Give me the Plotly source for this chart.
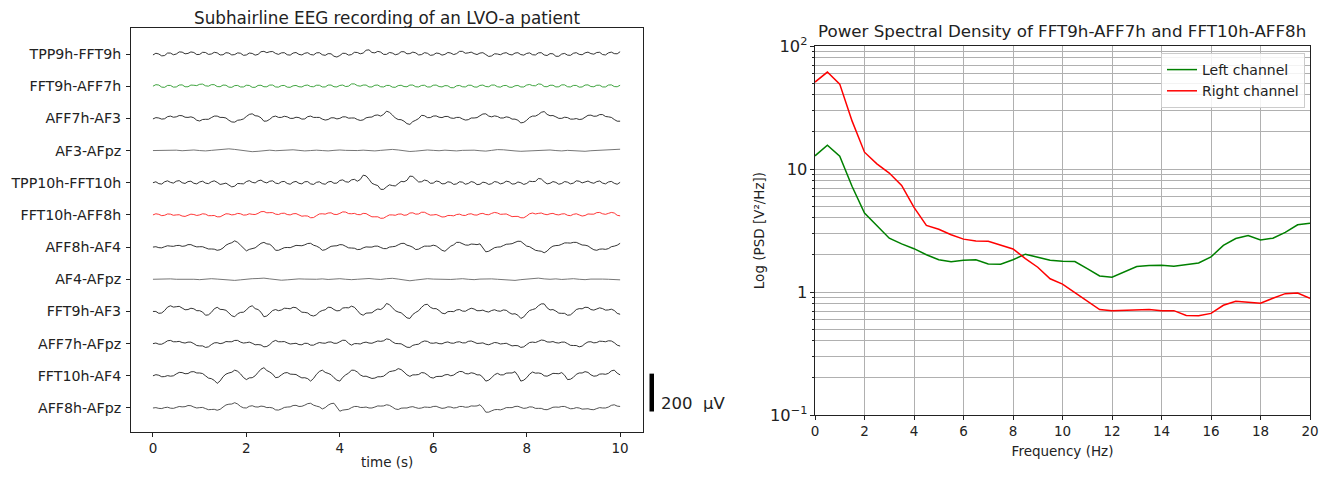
import numpy as np
import plotly.graph_objects as go

# ---------------- EEG data (µV deviation from each channel's baseline, 0 to 10 s) ----------------
channel_names = ["TPP9h-FFT9h", "FFT9h-AFF7h", "AFF7h-AF3", "AF3-AFpz", "TPP10h-FFT10h",
                 "FFT10h-AFF8h", "AFF8h-AF4", "AF4-AFpz", "FFT9h-AF3", "AFF7h-AFpz",
                 "FFT10h-AF4", "AFF8h-AFpz"]

tpp9h_fft9h = [-5, 4, 0, -10, -8, 5, 5, -4, 0, 11, 10, 1, 3, 11, 8, -3, -2, 9, 8, -2, 0, 9, 6, -5,
               -4, 7, 5, -5, -3, 6, 4, -7, -5, 5, 3, -6, -2, 12, 14, 7, 12, 13, 3, -2, 6, 7, -4, -6,
               5, 8, -2, -5, 4, 7, -3, -5, 6, 7, -4, -7, 2, 1, -12, -16, -8, 4, 3, -6, -3, 9, 8, 1,
               5, 20, 22, 8, 6, 14, 10, -2, -2, 8, 5, -4, 0, 12, 12, 1, 2, 10, 6, -5, -3, 7, 4, -7,
               -5, 5, 3, -6, -2, 8, 5, -3, 2, 14, 14, 4, 6, 10, 2, -3, 5, 7, -3, -13, -10, 1, 0, -4,
               4, 7, -2, -5, 5, 7, -3, -6, 3, 6, -4, -5, 6, 7, -5, -8, 2, 1, -12, -12, 0, 3, -6, -7,
               4, 7, -2, -4, 6, 10, 2, -1, 8, 9, -3, -5, 6, 10, 2, 1, 12]
fft9h_aff7h = [0, 8, 6, -5, -6, 4, 4, -5, -4, 6, 7, -3, -3, 6, 5, 3, 10, 11, 2, 0, 8, 8, -2, -3,
               6, 5, -5, -6, 3, 4, -4, -4, 5, 4, -6, -6, 4, 5, -3, -3, 6, 6, -4, -5, 3, 4, -5, -6,
               2, 4, -3, -4, 4, 6, -2, -3, 5, 5, -4, -4, 6, 6, -3, -4, 4, 6, -2, 0, 12, 12, 3, 0,
               6, 6, -4, -4, 5, 6, -3, -4, 4, 4, -5, -6, 3, 5, -2, -3, 6, 6, -3, -4, 4, 5, -4, -4,
               5, 6, -2, -4, 3, 2, -8, -8, 2, 4, -3, -4, 5, 5, -4, -5, 4, 6, -2, -3, 6, 6, -3, -5,
               3, 4, -5, -6, 2, 4, -4, -4, 6, 9, 3, 2, 12, 10, -2, -3, 5, 5, -4, -3, 7, 7, -3, -4,
               4, 4, -5, -4, 6, 7, -2, -3, 5, 5, -4, -4, 6, 7, -2, -3, 5]
aff7h_af3 = [-3, 4, 2, -4, -2, 9, 12, 6, 8, 15, 14, 6, 5, 8, 3, -10, -14, -6, -5, -5, 4, 12, 12, 5,
             5, 2, -10, -19, -20, -10, -8, -3, 10, 21, 24, 14, 12, 3, -15, -14, -5, 8, 12, 5, 5, 11,
             8, 0, 0, 6, 4, -4, -3, 9, 12, 5, 5, 5, -4, -9, -6, 3, 3, -3, 0, 8, 8, 1, 2, 2, -6, -11,
             -8, 3, 6, 7, 16, 18, 12, 21, 38, 32, 18, 2, -6, -7, -15, -28, -32, -17, -10, -1, 16, 14,
             4, 4, 12, 13, 6, 4, 10, 10, 2, 0, 5, 5, -3, -9, -7, 2, 2, 4, 14, 23, 24, 12, 8, 13, 10,
             2, 2, 8, 5, -4, -4, -10, -24, -21, -10, 5, 12, 12, 20, 32, 36, 21, 14, 15, 8, 0, 0, 6,
             4, -4, -4, -1, -6, -4, 6, 16, 17, 11, 12, 20, 20, 10, 8, 5, -6, -15, -15]
af3_afpz = [0, 1, -1, 0, 2, -1, 1, 3, 0, -2, 1, 3, 5, 9, 6, 1, -3, -6, -4, 0,
            2, -1, 1, 3, 4, 1, -2, 0, 2, 0, -2, 1, 3, 1, -1, 0, 2, 0, -2, 1,
            4, 6, 3, -2, -5, -3, 1, 3, 1, -1, 2, 0, -2, 1, 3, 2, -1, -3, 1, 5,
            4, 0, -2, -4, -3, 0, 2, 4, 3, 0, -2, 1, 0, -3, -4, -1, 1, 0, 2, 5, 7]
tpp10h_fft10h = [0, 5, -5, -7, 5, 10, 2, -2, 8, 11, 0, -4, 6, 8, -3, -6, 4, 8, -2, -5, 5, 10, 2, -9,
                 -6, -2, -12, -22, -18, -4, -5, -6, 6, 11, 2, -1, 10, 14, 4, -1, 8, 10, -2, -5, 5, 7,
                 -4, -8, 3, 7, -3, -6, 5, 6, -6, -9, 2, 5, -5, -8, 4, 7, -3, -2, 12, 15, 5, 3, 15, 18,
                 8, 17, 40, 36, 18, -3, -10, -15, -35, -35, -22, -11, -15, -17, -5, 7, 5, 13, 35, 33,
                 18, 4, 5, 14, 10, -3, -2, 9, 6, -6, -5, 5, 2, -9, -6, 5, 3, -8, -4, 6, 2, -10, -8, 3,
                 0, -9, -5, 6, 3, -6, -2, 8, 5, -7, -6, 4, 0, -9, -4, 8, 6, 7, 22, 20, 5, -6, -3, 6,
                 2, -8, -4, 6, 3, -6, -2, 10, 8, -1, 4, 9, 1, -3, 6, 9, -2, -6, 4, 7, -3, -8, 2]
fft10h_aff8h = [0, 6, 3, -4, -2, 5, 4, -2, 0, 1, -6, -8, -2, 4, 2, -3, 0, 6, 4, -4, -4, -3, -10, -10,
                -2, 6, 5, 0, 2, 8, 6, -1, 0, 6, 3, 2, 8, 17, 18, 11, 12, 12, 4, 2, 8, 9, 2, 0, 6, 7,
                0, -7, -5, -6, -15, -14, -4, 5, 6, 4, 10, 11, 3, 2, 8, 16, 15, 7, 6, 8, 2, 1, 8, 7,
                -2, -10, -10, -10, -18, -17, -8, 0, 0, -2, 4, 5, -2, 0, 10, 11, 4, 5, 14, 14, 6, -1,
                0, 2, -4, -11, -10, -3, -3, -5, 2, 4, -2, -3, 4, 6, 0, -1, 6, 8, 2, 1, 8, 13, 10, 3,
                4, 5, -2, -9, -8, -8, -15, -15, -6, 6, 10, 5, 8, 10, 4, 1, 6, 8, 2, 0, 5, 6, -2, -4,
                3, 6, 0, -6, -3, 5, 4, 4, 12, 13, 6, 3, 8, 13, 10, -2, -5]
aff8h_af4 = [0, 2, -3, -4, 2, 7, 5, 4, 8, 9, 4, 6, 13, 13, 6, 1, 2, 2, -4, -10, -10, -11, -17, -14,
             -5, 10, 18, 23, 33, 25, 10, -8, -20, -12, -10, -4, 8, 20, 25, 17, 15, 2, -17, -17, -10,
             -3, -2, -3, 3, 9, 8, 7, 12, 19, 20, 10, 5, -3, -17, -14, -5, 4, 6, 7, 13, 12, 4, -4,
             -5, -6, -13, -12, -4, 1, 0, 0, 5, 5, -2, -8, -8, 0, 2, 4, 12, 19, 20, 10, 6, -1, -13,
             -11, -2, 5, 5, 5, 10, 6, -5, -17, -22, -6, 5, 12, 25, 25, 18, 11, 10, 16, 15, 13, 17,
             -1, -25, -22, -12, -3, 0, 1, 8, 15, 16, 18, 25, 31, 30, 15, 5, 2, -8, -17, -20, -22,
             -30, -21, -5, 5, 8, 9, 15, 22, 22, 21, 25, 25, 18, 11, 10, 6, -5, -14, -17, -11, -10,
             -12, -8, 2, 5, 10, 20]
af4_afpz = [0, 1, -1, 2, 0, 1, -1, 0, -2, 1, 3, 1, -1, -3, -6, -3, 1, 3, 4, 6,
            2, -2, -5, -3, 0, 2, 1, -1, 0, 2, -1, 1, 3, 0, -2, 0, 2, 4, 1, -1,
            3, 5, 1, -4, -8, -4, 0, 3, 1, 0, 2, -1, 1, 3, 0, -2, 1, 3, 2, 0,
            -2, -5, -6, -2, 1, 3, 6, 2, 0, 2, -1, 1, 3, 0, -2, 1, 2, 1, 0, -2, -3]
fft9h_af3 = [0, 0, -10, -8, 5, 23, 30, 23, 25, 27, 18, 9, 10, 17, 14, 4, 4, -3, -20, -18, -5, 14, 22,
             11, 10, 6, -8, -23, -28, -12, -5, -4, 8, 24, 30, 15, 10, -4, -28, -24, -10, 5, 10, 4, 8,
             17, 16, 14, 22, 20, 8, -4, -5, -8, -20, -24, -18, -2, 5, 9, 22, 21, 10, 3, 5, 18, 20,
             19, 28, 22, 5, -13, -20, -9, -8, -7, 5, 13, 10, 21, 42, 36, 20, 4, -3, -7, -20, -34,
             -37, -16, -5, 4, 22, 35, 38, 22, 15, 15, 5, -9, -12, -1, 0, -1, 8, 10, 2, 1, 10, 17,
             13, 4, 4, 7, 0, -3, 5, 9, 3, 1, 8, 6, -6, -14, -12, -20, -37, -29, -10, 5, 10, 15, 30,
             40, 40, 19, 8, 10, 2, -9, -10, -10, -20, -18, -5, 10, 15, 14, 22, 21, 10, 7, 13, 19,
             15, 7, 8, 12, 5, -10, -15]
aff7h_afpz = [0, 3, -3, -3, 5, 15, 17, 10, 10, 12, 6, 3, 8, 8, 0, -10, -12, -12, -20, -17, -5, 4, 5,
              0, 3, 11, 10, 10, 17, 17, 8, 3, 5, 8, 2, -6, -5, -7, -17, -15, -5, 10, 17, 10, 10, 11,
              4, -2, 0, 2, -5, -6, 2, 1, -8, -8, 0, 6, 3, 2, 8, 9, 2, 2, 10, 18, 17, 1, -8, 0, 0, -2,
              5, 8, 3, 2, 8, 14, 12, 15, 25, 22, 10, 1, 0, -1, -10, -19, -20, -9, -5, -3, 8, 14, 12,
              3, 2, 5, 0, -1, 6, 9, 3, 2, 8, 10, 4, 4, 12, 14, 8, 1, 2, 4, -3, -6, 0, 6, 4, -2, 0, 2,
              -5, -12, -10, -11, -20, -17, -5, 6, 8, 6, 12, 19, 17, 9, 8, 11, 5, 3, 8, 8, 0, -9, -10,
              -10, -17, -13, 0, 9, 10, 4, 6, 13, 12, 10, 15, 14, 5, -8, -13]
fft10h_af4 = [0, 6, 3, -5, -4, 1, -2, 0, 10, 18, 17, 11, 12, 21, 22, 15, 15, 12, 0, -12, -15, -24,
              -40, -27, -5, 9, 15, 19, 30, 24, 10, -9, -20, -11, -10, 0, 18, 35, 43, 28, 20, 9, -10,
              -7, 5, 15, 17, 9, 8, 7, -3, -11, -10, -15, -28, -14, 8, 23, 30, 18, 13, 6, -10, -23,
              -28, -8, 5, 14, 30, 29, 20, 5, -3, -2, -8, -14, -12, -5, -5, -2, 10, 22, 25, 28, 38,
              33, 20, 5, -3, 5, 5, 7, 17, 15, 5, -8, -12, -4, -3, -3, 5, 7, 0, 4, 15, 23, 22, 12, 10,
              16, 13, 5, 5, -8, -28, -23, -10, 6, 13, 5, 5, 14, 15, 15, 22, 1, -28, -23, -10, 9, 20,
              14, 15, 12, 0, -2, 5, 13, 12, 11, 17, 3, -20, -18, -8, 8, 15, 15, 22, 18, 5, -2, 0, 9,
              10, 8, 13, 26, 30, 14, 5]
aff8h_afpz = [0, 2, -2, -3, 2, 4, -1, -2, 3, 8, 6, 7, 13, 12, 5, 0, 2, 3, -3, -9, -8, -7, -12, -7,
              5, 16, 20, 21, 28, 21, 8, 1, 0, 9, 12, 6, 5, 10, 8, 2, 3, 0, -10, -11, -5, 3, 5, 6, 13,
              14, 8, 9, 15, 23, 25, 15, 10, 6, -5, 2, 15, 23, 25, 1, -17, -11, -10, -7, 2, 8, 8, 3, 3,
              5, 0, 0, 5, 11, 10, 11, 17, 14, 5, -5, -8, -1, 0, 0, 5, 7, 2, -2, 0, 5, 4, 3, 8, 9, 3,
              -2, 0, 6, 5, 0, 2, 8, 8, 4, 5, 11, 10, 11, 17, 1, -22, -22, -15, -9, -8, -10, -5, 2, 2,
              2, 8, 9, 3, -2, 0, 6, 5, -2, -2, -2, -8, -9, -3, 4, 5, 4, 8, 8, 2, -4, -3, 2, 0, -6, -5,
              -4, -8, -9, -3, 2, 0, 0, 5, 14, 17, 10, 8]

eeg_series = [tpp9h_fft9h, fft9h_aff7h, aff7h_af3, af3_afpz, tpp10h_fft10h, fft10h_aff8h,
              aff8h_af4, af4_afpz, fft9h_af3, aff7h_afpz, fft10h_af4, aff8h_afpz]
eeg_colors = ["#1e1e1e", "#2a9a2a", "#1e1e1e", "#666666", "#1e1e1e", "#ff2020",
              "#1e1e1e", "#666666", "#1e1e1e", "#1e1e1e", "#1e1e1e", "#404040"]
channel_spacing_uv = 170
scale_bar_uv = 200
time_span_s = 10

# ---------------- PSD data ----------------
freq_hz = [0, 0.5, 1, 1.5, 2, 2.5, 3, 3.5, 4, 4.5, 5, 5.5, 6, 6.5, 7, 7.5, 8, 8.5, 9, 9.5,
           10, 10.5, 11, 11.5, 12, 12.5, 13, 13.5, 14, 14.5, 15, 15.5, 16, 16.5, 17, 17.5,
           18, 18.5, 19, 19.5, 20]
psd_left = [12.8, 15.6, 12.7, 7.2, 4.38, 3.45, 2.74, 2.46, 2.25, 2.01, 1.83, 1.76, 1.81, 1.83,
            1.69, 1.68, 1.83, 2.03, 1.93, 1.81, 1.78, 1.77, 1.55, 1.35, 1.32, 1.46, 1.61, 1.64,
            1.65, 1.62, 1.67, 1.72, 1.93, 2.39, 2.72, 2.88, 2.65, 2.74, 3.05, 3.52, 3.63]
psd_right = [50.9, 61.4, 49.0, 24.5, 13.7, 11.0, 9.27, 7.36, 4.87, 3.48, 3.24, 2.92, 2.69, 2.6,
             2.59, 2.42, 2.24, 1.87, 1.59, 1.28, 1.16, 0.99, 0.85, 0.72, 0.705, 0.71, 0.716,
             0.72, 0.705, 0.705, 0.645, 0.64, 0.67, 0.78, 0.84, 0.83, 0.81, 0.89, 0.97, 0.98, 0.89]

# ---------------- layout geometry (reference pixels; page body margin is 8 px) ----------------
PAGE_OFF = 8
W, H = 1331 - 2 * PAGE_OFF, 479 - 2 * PAGE_OFF
L_PX, R_PX, T_PX, B_PX = 131, 1310, 28, 432          # outer plotting box in reference pixels
ML = L_PX - PAGE_OFF
MT = T_PX - PAGE_OFF
MR = W - (R_PX - PAGE_OFF)
MB = H - (B_PX - PAGE_OFF)
PW, PH = R_PX - L_PX, B_PX - T_PX

def px_x(px):
    return (px - L_PX) / PW

def px_y(py):
    return (B_PX - py) / PH

n_ch = len(channel_names)
y_min = -0.746 * channel_spacing_uv
y_max = (n_ch - 1 + 0.808) * channel_spacing_uv

fig = go.Figure()

for k, (name, vals, col) in enumerate(zip(channel_names, eeg_series, eeg_colors)):
    offset = (n_ch - 1 - k) * channel_spacing_uv
    t = np.linspace(0, time_span_s, len(vals))
    fig.add_trace(go.Scatter(x=t, y=np.array(vals) + offset, mode="lines",
                             line=dict(color=col, width=0.9), showlegend=False,
                             xaxis="x", yaxis="y", hoverinfo="skip"))

fig.add_trace(go.Scatter(x=freq_hz, y=psd_left, mode="lines", name="Left channel",
                         line=dict(color="green", width=1.5), xaxis="x2", yaxis="y2"))
fig.add_trace(go.Scatter(x=freq_hz, y=psd_right, mode="lines", name="Right channel",
                         line=dict(color="red", width=1.5), xaxis="x2", yaxis="y2"))

font_family = "DejaVu Sans"
ink = "#222222"
tick_font = dict(family=font_family, size=13.5, color=ink)
grid_col = "#b0b0b0"

fig.update_layout(
    width=W, height=H,
    margin=dict(l=ML, r=MR, t=MT, b=MB, pad=0, autoexpand=False),
    paper_bgcolor="white", plot_bgcolor="white",
    font=dict(family=font_family, size=13.5, color=ink),
    xaxis=dict(domain=[0, px_x(643)], range=[-0.47, 10.49], tickvals=[0, 2, 4, 6, 8, 10],
               ticks="outside", ticklen=4, tickcolor=ink, showgrid=False, zeroline=False,
               showline=True, linecolor=ink, linewidth=1, mirror=True, tickfont=tick_font,
               automargin=False),
    yaxis=dict(domain=[0, 1], range=[y_min, y_max],
               tickvals=[(n_ch - 1 - k) * channel_spacing_uv for k in range(n_ch)],
               ticktext=channel_names, ticks="outside", ticklen=4, tickcolor=ink,
               showgrid=False, zeroline=False, showline=True, linecolor=ink, linewidth=1,
               mirror=True, tickfont=dict(family=font_family, size=14.2, color=ink),
               ticklabelstandoff=2, automargin=False),
    xaxis2=dict(domain=[px_x(815), 1], anchor="y2", range=[0, 20], dtick=2,
                ticks="outside", ticklen=4, tickcolor=ink, showgrid=True,
                gridcolor=grid_col, gridwidth=0.8, zeroline=False, showline=True,
                linecolor=ink, linewidth=1, mirror=True, tickfont=tick_font, automargin=False,
                title=dict(text="Frequency (Hz)", font=dict(size=13.5), standoff=8)),
    yaxis2=dict(domain=[px_y(415), px_y(46)], anchor="x2", type="log", range=[-1, 2],
                dtick=1, exponentformat="power", ticks="outside", ticklen=4, tickcolor=ink,
                showgrid=True, gridcolor=grid_col, gridwidth=0.8, zeroline=False,
                showline=True, linecolor=ink, linewidth=1, mirror=True, automargin=False,
                tickfont=dict(family=font_family, size=13, color=ink),
                minor=dict(dtick="D1", showgrid=True, gridcolor=grid_col, gridwidth=0.8,
                           ticks="outside", ticklen=2, tickcolor=ink),
                title=dict(text="Log (PSD [V²/Hz])", font=dict(size=13.5), standoff=2)),
    legend=dict(x=px_x(1305), y=px_y(53), xanchor="right", yanchor="top",
                bgcolor="rgba(255,255,255,0.85)", bordercolor="#cccccc", borderwidth=1,
                font=dict(family=font_family, size=14, color=ink), tracegroupgap=0),
    showlegend=True,
)

# titles
fig.add_annotation(text="Subhairline EEG recording of an LVO-a patient", xref="paper", yref="paper",
                   x=px_x(387), y=px_y(17.5), xanchor="center", yanchor="middle", showarrow=False,
                   font=dict(family=font_family, size=16.8, color=ink))
fig.add_annotation(text="Power Spectral Density of FFT9h-AFF7h and FFT10h-AFF8h", xref="paper",
                   yref="paper", x=px_x(1062), y=px_y(31), xanchor="center", yanchor="middle",
                   showarrow=False, font=dict(family=font_family, size=16.7, color=ink))
# x-axis title of the EEG panel
fig.add_annotation(text="time (s)", xref="paper", yref="paper", x=px_x(387), y=px_y(461.5),
                   xanchor="center", yanchor="middle", showarrow=False,
                   font=dict(family=font_family, size=13.5, color=ink))

# scale bar (200 µV) beside the bottom trace, in the left axis' µV scale
bar_bottom_uv = -18.5
bar_y0 = (bar_bottom_uv - y_min) / (y_max - y_min)
bar_y1 = (bar_bottom_uv + scale_bar_uv - y_min) / (y_max - y_min)
fig.add_shape(type="rect", xref="paper", yref="paper", x0=px_x(649.5), x1=px_x(654),
              y0=bar_y0, y1=bar_y1, fillcolor="black", line=dict(width=0))
fig.add_annotation(text=f"{scale_bar_uv}  µV", xref="paper", yref="paper", x=px_x(659),
                   y=px_y(403), xanchor="left", yanchor="middle",
                   showarrow=False, font=dict(family=font_family, size=16.5, color=ink))

fig.write_html("out.html")
